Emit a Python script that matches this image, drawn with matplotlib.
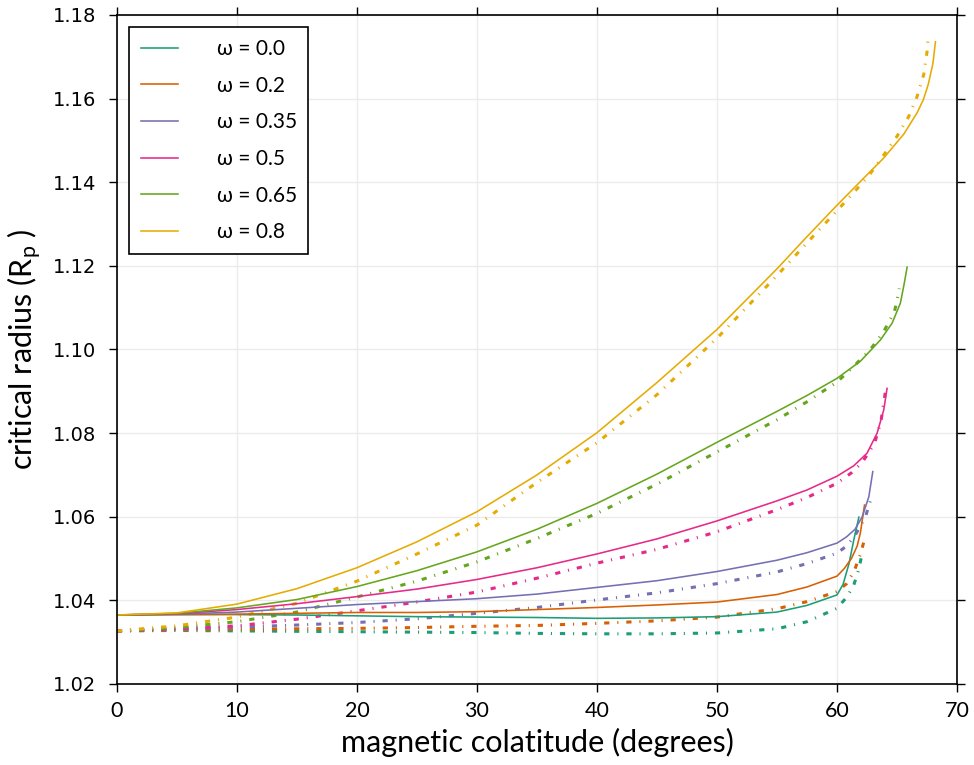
import matplotlib
matplotlib.use("Agg")
import matplotlib.pyplot as plt

# ---- data ----
omegas = ["0.0", "0.2", "0.35", "0.5", "0.65", "0.8"]
colors = ["#1b9e77", "#d95f02", "#7570b3", "#e7298a", "#66a61e", "#e6ab02"]

base_x = [0, 5, 10, 15, 20, 25, 30, 35, 40, 45, 50, 55, 57.5, 60]

# omega = 0.0
x_s0 = base_x + [60.5, 61.0, 61.4, 61.82]
y_s0 = [1.0365, 1.0366, 1.0366, 1.0365, 1.0363, 1.0361, 1.0360, 1.0359, 1.0357, 1.0358, 1.0361, 1.0372, 1.0388,
        1.0413, 1.0438, 1.0488, 1.0545, 1.0599]
x_d0 = base_x + [60.85, 61.4, 61.8, 62.1]
y_d0 = [1.0327, 1.0328, 1.0327, 1.0326, 1.0325, 1.0324, 1.0323, 1.0321, 1.0320, 1.0320, 1.0322, 1.0332, 1.0349,
        1.0381, 1.0409, 1.0437, 1.0473, 1.0513]

# omega = 0.2
x_s1 = base_x + [60.6, 61.2, 61.68, 61.95, 62.29]
y_s1 = [1.0365, 1.0366, 1.0367, 1.0369, 1.0371, 1.0371, 1.0373, 1.0378, 1.0383, 1.0389, 1.0396, 1.0414, 1.0432,
        1.0458, 1.0476, 1.0500, 1.0530, 1.0562, 1.0628]
x_d1 = base_x + [60.8, 61.4, 61.95, 62.29]
y_d1 = [1.0327, 1.0329, 1.0331, 1.0332, 1.0333, 1.0335, 1.0338, 1.0340, 1.0345, 1.0351, 1.0360, 1.0380, 1.0397,
        1.0421, 1.0440, 1.0468, 1.0510, 1.0546]

# omega = 0.35
x_s2 = base_x + [60.8, 61.5, 62.1, 62.65, 62.98]
y_s2 = [1.0365, 1.0367, 1.0372, 1.0381, 1.0390, 1.0397, 1.0404, 1.0415, 1.0431, 1.0447, 1.0469, 1.0496, 1.0514,
        1.0537, 1.0552, 1.0570, 1.0600, 1.0648, 1.0708]
x_d2 = base_x + [60.8, 61.5, 62.37, 62.93]
y_d2 = [1.0327, 1.0331, 1.0336, 1.0341, 1.0347, 1.0356, 1.0369, 1.0383, 1.0401, 1.0418, 1.0440, 1.0468, 1.0488,
        1.0513, 1.0530, 1.0555, 1.0600, 1.0652]

# omega = 0.5
x_s3 = base_x + [61.4, 62.5, 63.34, 63.89, 64.17]
y_s3 = [1.0365, 1.0368, 1.0378, 1.0392, 1.0409, 1.0427, 1.0450, 1.0478, 1.0511, 1.0547, 1.0590, 1.0638, 1.0664,
        1.0697, 1.0722, 1.0752, 1.0800, 1.0855, 1.0907]
x_d3 = base_x + [61.2, 62.1, 63.12, 63.66, 64.03]
y_d3 = [1.0327, 1.0333, 1.0339, 1.0355, 1.0375, 1.0396, 1.0420, 1.0453, 1.0489, 1.0522, 1.0564, 1.0617, 1.0646,
        1.0680, 1.0705, 1.0730, 1.0775, 1.0828, 1.0899]

# omega = 0.65
x_s4 = base_x + [61.95, 63.62, 64.59, 65.28, 65.6, 65.84]
y_s4 = [1.0365, 1.0369, 1.0382, 1.0402, 1.0433, 1.0471, 1.0516, 1.0570, 1.0632, 1.0702, 1.0778, 1.0852, 1.0890,
        1.0931, 1.0972, 1.1023, 1.1063, 1.1111, 1.1158, 1.1197]
x_d4 = base_x + [61.4, 62.78, 63.89, 64.78, 65.0, 65.19]
y_d4 = [1.0327, 1.0335, 1.0349, 1.0372, 1.0408, 1.0446, 1.0492, 1.0548, 1.0608, 1.0678, 1.0755, 1.0832, 1.0875,
        1.0922, 1.0960, 1.1000, 1.1043, 1.1090, 1.1118, 1.1146]

# omega = 0.8
x_s5 = base_x + [62.23, 63.89, 65.56, 66.67, 67.2, 67.6, 67.99, 68.2]
y_s5 = [1.0365, 1.0370, 1.0391, 1.0428, 1.0478, 1.0540, 1.0612, 1.0700, 1.0801, 1.0921, 1.1048, 1.1193, 1.1270,
        1.1345, 1.1410, 1.1458, 1.1515, 1.1566, 1.1598, 1.1634, 1.1684, 1.1736]
x_d5 = base_x + [61.54, 62.78, 63.89, 65.0, 65.97, 66.67, 67.22, 67.5, 67.58]
y_d5 = [1.0327, 1.0339, 1.0360, 1.0393, 1.0446, 1.0511, 1.0580, 1.0682, 1.0777, 1.0892, 1.1027, 1.1177, 1.1255,
        1.1332, 1.1380, 1.1421, 1.1465, 1.1510, 1.1557, 1.1605, 1.1657, 1.1712, 1.1739]

solid_x = [x_s0, x_s1, x_s2, x_s3, x_s4, x_s5]
solid_y = [y_s0, y_s1, y_s2, y_s3, y_s4, y_s5]
dash_x = [x_d0, x_d1, x_d2, x_d3, x_d4, x_d5]
dash_y = [y_d0, y_d1, y_d2, y_d3, y_d4, y_d5]

xticks = [0, 10, 20, 30, 40, 50, 60, 70]
yticks = [1.02, 1.04, 1.06, 1.08, 1.10, 1.12, 1.14, 1.16, 1.18]

# ---- plotting ----
FONT = ["Lato", "DejaVu Sans"]
plt.rcParams["font.family"] = FONT
plt.rcParams["mathtext.fontset"] = "custom"
plt.rcParams["mathtext.rm"] = "Lato"

fig = plt.figure(figsize=(9.74, 7.65), dpi=100)
ax = fig.add_axes([0.120, 0.1059, 0.8626, 0.8745])

for i in range(len(omegas)):
    ax.plot(dash_x[i], dash_y[i], color=colors[i], lw=2.2,
            linestyle=(0, (1.7, 2.6, 0.35, 2.6)), dash_capstyle="butt",
            solid_joinstyle="round")
for i in range(len(omegas)):
    ax.plot(solid_x[i], solid_y[i], color=colors[i], lw=1.15,
            solid_joinstyle="round", label="ω = " + omegas[i])

ax.set_xlim(0, 70)
ax.set_ylim(1.02, 1.18)
ax.set_xticks(xticks)
ax.set_yticks(yticks)
ax.set_xticklabels([str(t) for t in xticks], fontsize=15.5)
ax.set_yticklabels(["%.2f" % t for t in yticks], fontsize=14, family=["DejaVu Sans"])
ax.tick_params(direction="out", length=6, width=1, top=True, right=True)
ax.tick_params(axis="y", pad=9)
ax.tick_params(axis="x", pad=6)
ax.grid(True, color="#ebebeb", lw=1)
ax.set_axisbelow(True)
for s in ax.spines.values():
    s.set_linewidth(1.2)

ax.set_xlabel("magnetic colatitude (degrees)", fontsize=22, labelpad=5)
ax.set_ylabel(r"critical radius ($\mathregular{R_p}$ )", fontsize=22, labelpad=6)

leg = ax.legend(loc="upper left", fontsize=15, frameon=True, fancybox=False,
                edgecolor="black", framealpha=1, handlelength=1.8, handletextpad=1.85,
                labelspacing=0.8, borderpad=0.55, borderaxespad=0.6)
leg.get_frame().set_linewidth(1.2)

fig.savefig("out.png", dpi=100)
